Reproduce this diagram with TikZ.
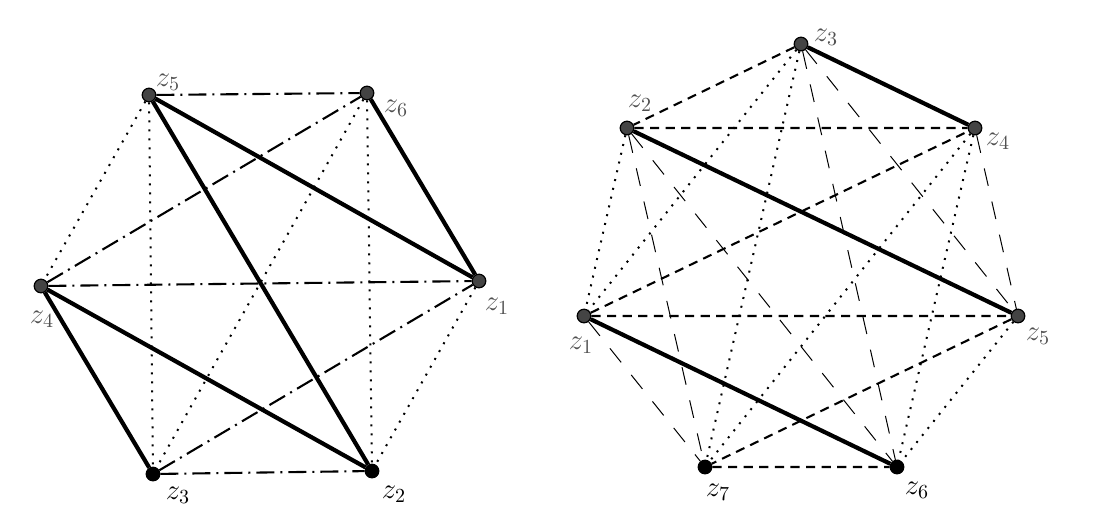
\documentclass[tikz,border=0pt]{standalone}
\usepackage{amsmath}
\usepackage{xcolor}
\usepackage{tikz}
\usetikzlibrary{backgrounds}
\definecolor{vgray}{HTML}{444444}
\definecolor{lgray}{HTML}{505050}
\tikzset{
  vtx/.style={circle, draw=black, fill=vgray, line width=0.6pt, inner sep=0pt, minimum size=6.8pt},
  vtxb/.style={vtx, fill=black},
  lab/.style={text=lgray, font=\fontsize{14}{16}\selectfont, inner sep=0pt},
  labb/.style={lab, text=black},
  heavy/.style={draw=black, line width=2.1pt},
  dashdot/.style={draw=black, line width=1.05pt, dash pattern=on 9pt off 3pt on 1pt off 3pt},
  dots/.style={draw=black, line width=1pt, dash pattern=on 1pt off 3.5pt},
  dshort/.style={draw=black, line width=1.05pt, dash pattern=on 4.6pt off 3.2pt},
  dlong/.style={draw=black, line width=0.5pt, dash pattern=on 9pt off 8pt},
}

\begin{document}
\begin{tikzpicture}[x=0.5pt, y=-0.5pt]
\useasboundingbox (0,0) rectangle (1097,521);

% left graph
\node[vtx]  (a1) at (479,281) {};
\node[vtxb] (a2) at (372,471) {};
\node[vtxb] (a3) at (153,474) {};
\node[vtx]  (a4) at (41,286) {};
\node[vtx]  (a5) at (149,95) {};
\node[vtx]  (a6) at (367,93) {};
\node[lab]  (la1) at (497,306) {$z_1$};
\node[labb] (la2) at (394,494) {$z_2$};
\node[labb] (la3) at (178,495) {$z_3$};
\node[lab]  (la4) at (42,319) {$z_4$};
\node[lab]  (la5) at (168,82) {$z_5$};
\node[lab]  (la6) at (396,108) {$z_6$};

% right graph
\node[vtx]  (b1) at (584,316) {};
\node[vtx]  (b2) at (627,128) {};
\node[vtx]  (b3) at (801,44) {};
\node[vtx]  (b4) at (975,128) {};
\node[vtx]  (b5) at (1018,316) {};
\node[vtxb] (b6) at (897,467) {};
\node[vtxb] (b7) at (705,467) {};
\node[lab]  (lb1) at (581,345) {$z_1$};
\node[lab]  (lb2) at (640,103) {$z_2$};
\node[lab]  (lb3) at (826,37) {$z_3$};
\node[lab]  (lb4) at (998,141) {$z_4$};
\node[lab]  (lb5) at (1038,336) {$z_5$};
\node[labb] (lb6) at (917,490) {$z_6$};
\node[labb] (lb7) at (718,492) {$z_7$};

\begin{pgfonlayer}{background}
\draw[heavy] (a5) -- (a1) (a6) -- (a1) (a5) -- (a2) (a4) -- (a2) (a4) -- (a3);
\draw[dashdot] (a5) -- (a6) (a4) -- (a6) (a4) -- (a1) (a3) -- (a1) (a3) -- (a2);
\draw[dots] (a5) -- (a4) (a5) -- (a3) (a6) -- (a3) (a6) -- (a2) (a1) -- (a2);

\draw[heavy] (b3) -- (b4) (b2) -- (b5) (b1) -- (b6);
\draw[dshort] (b3) -- (b2) (b2) -- (b4) (b1) -- (b4) (b1) -- (b5) (b5) -- (b7) (b7) -- (b6);
\draw[dots] (b2) -- (b1) (b3) -- (b1) (b3) -- (b7) (b4) -- (b7) (b4) -- (b6) (b5) -- (b6);
\draw[dlong] (b2) -- (b7) (b2) -- (b6) (b3) -- (b6) (b3) -- (b5) (b4) -- (b5) (b1) -- (b7);
\end{pgfonlayer}
\end{tikzpicture}
\end{document}
